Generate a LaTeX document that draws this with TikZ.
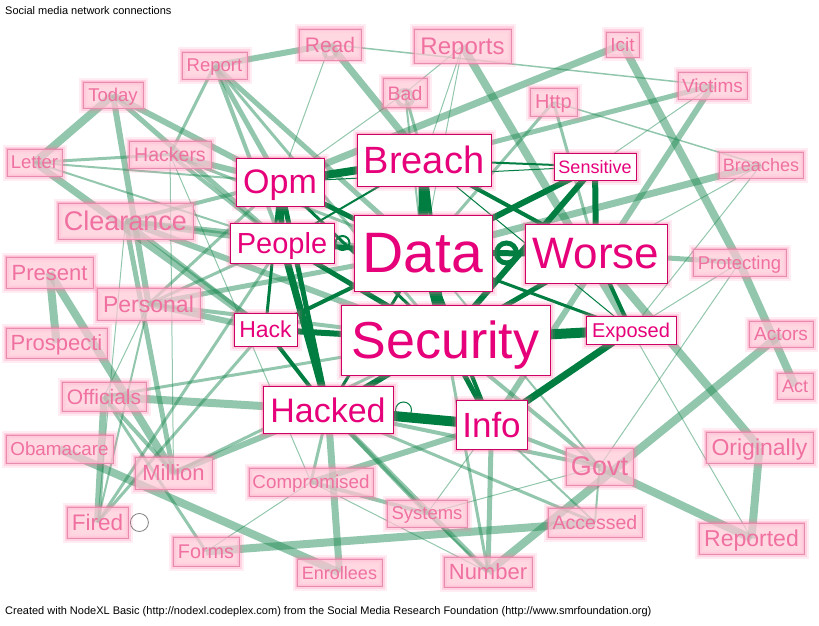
\documentclass[tikz,border=0pt]{standalone}
\usepackage{fontspec}
\setmainfont{Liberation Sans}
\usetikzlibrary{calc}
\definecolor{pktext}{RGB}{240,112,160}
\definecolor{pkfill}{RGB}{255,200,215}
\definecolor{pkborder}{RGB}{232,140,175}
\definecolor{glowc}{RGB}{255,110,160}
\definecolor{mgtext}{RGB}{230,0,122}
\definecolor{mgborder}{RGB}{205,0,100}
\definecolor{ltc}{RGB}{30,140,85}
\definecolor{dkc}{RGB}{0,125,65}
\pgfdeclarelayer{bgpaper}
\pgfdeclarelayer{edges}
\pgfsetlayers{bgpaper,edges,main}
\newcommand\fsz[1]{\fontsize{#1}{#1}\selectfont}
\tikzset{
  glow/.style={preaction={draw=glowc, line width=9pt, draw opacity=0.12},
               preaction={draw=glowc, line width=5pt, draw opacity=0.2},
               preaction={draw=glowc, line width=2.5pt, draw opacity=0.25}},
  pk/.style={glow, draw=pkborder, line width=0.8pt, fill=pkfill, fill opacity=0.7,
             text opacity=1, text=pktext, inner sep=0pt, text depth=0pt},
  mg/.style={glow, draw=mgborder, line width=1pt, fill=white, text=mgtext, inner sep=0pt,
             text depth=0pt},
  lt/.style={draw=ltc, draw opacity=0.48, line cap=butt},
  dk/.style={draw=dkc, line cap=butt},
  caption/.style={anchor=west, inner sep=0pt, font=\fsz{11}, text=black}
}
\begin{document}
\begin{tikzpicture}[x=1pt,y=-1pt]
\useasboundingbox (0,0) rectangle (819,626);
\begin{pgfonlayer}{bgpaper}
\fill[white] (0,0) rectangle (819,626);
\end{pgfonlayer}
\node[caption] (title) at (5,11) {Social media network connections};
\node[caption] (footer) at (5,612) {Created with NodeXL Basic (http://nodexl.codeplex.com) from the Social Media Research Foundation (http://www.smrfoundation.org)};
% pink nodes
\node[pk, minimum width=62, minimum height=31, font=\fsz{21}] (read) at (330,44.5) {Read};
\node[pk, minimum width=97, minimum height=34, font=\fsz{24}] (reports) at (462.5,46) {Reports};
\node[pk, minimum width=33, minimum height=25, font=\fsz{19}] (icit) at (622.5,44.5) {Icit};
\node[pk, minimum width=65, minimum height=27, font=\fsz{18.5}] (report) at (214.5,65.5) {Report};
\node[pk, minimum width=69, minimum height=27, font=\fsz{19}] (victims) at (712.5,85.5) {Victims};
\node[pk, minimum width=60, minimum height=26, font=\fsz{18.5}] (today) at (113,95) {Today};
\node[pk, minimum width=44, minimum height=29, font=\fsz{19.5}] (bad) at (405,93) {Bad};
\node[pk, minimum width=47, minimum height=28, font=\fsz{20}] (http) at (553.5,102) {Http};
\node[pk, minimum width=55, minimum height=27, font=\fsz{18.5}] (letter) at (34.5,162.5) {Letter};
\node[pk, minimum width=82, minimum height=27, font=\fsz{19.5}] (hackers) at (170,154.5) {Hackers};
\node[pk, minimum width=84, minimum height=26, font=\fsz{18}] (breaches) at (761,165) {Breaches};
\node[pk, minimum width=135, minimum height=36, font=\fsz{27}] (clearance) at (125.5,221) {Clearance};
\node[pk, minimum width=93, minimum height=27, font=\fsz{18.5}] (protecting) at (739.5,262.5) {Protecting};
\node[pk, minimum width=87, minimum height=31, font=\fsz{22}] (present) at (49.5,272.5) {Present};
\node[pk, minimum width=103, minimum height=32, font=\fsz{23}] (personal) at (148.5,304) {Personal};
\node[pk, minimum width=64, minimum height=26, font=\fsz{19}] (actors) at (781,334) {Actors};
\node[pk, minimum width=101, minimum height=30, font=\fsz{22}] (prospecti) at (56.5,343) {Prospecti};
\node[pk, minimum width=36, minimum height=26, font=\fsz{18}] (act) at (795,386) {Act};
\node[pk, minimum width=84, minimum height=29, font=\fsz{21}] (officials) at (104,396.5) {Officials};
\node[pk, minimum width=107, minimum height=28, font=\fsz{18.8}] (obamacare) at (59.5,449) {Obamacare};
\node[pk, minimum width=107, minimum height=31, font=\fsz{23}] (originally) at (759.5,447.5) {Originally};
\node[pk, minimum width=77, minimum height=32, font=\fsz{22}] (million) at (173.5,473) {Million};
\node[pk, minimum width=67, minimum height=37, font=\fsz{27}] (govt) at (599.5,466.5) {Govt};
\node[pk, minimum width=124, minimum height=28, font=\fsz{18.8}] (compromised) at (311,482) {Compromised};
\node[pk, minimum width=80, minimum height=27, font=\fsz{18.5}] (systems) at (427,513.5) {Systems};
\node[pk, minimum width=61, minimum height=31, font=\fsz{22.5}] (fired) at (97.5,522.5) {Fired};
\node[pk, minimum width=94, minimum height=29, font=\fsz{19.5}] (accessed) at (595,522.5) {Accessed};
\node[pk, minimum width=105, minimum height=31, font=\fsz{23}] (reported) at (751.5,538.5) {Reported};
\node[pk, minimum width=66, minimum height=29, font=\fsz{19.8}] (forms) at (206,551.5) {Forms};
\node[pk, minimum width=85, minimum height=27, font=\fsz{18}] (enrollees) at (339.5,572.5) {Enrollees};
\node[pk, minimum width=88, minimum height=30, font=\fsz{22}] (number) at (488,572) {Number};
% white nodes
\node[mg, minimum width=88, minimum height=48, font=\fsz{34}] (opm) at (280,182) {Opm};
\node[mg, minimum width=134, minimum height=52, font=\fsz{38}] (breach) at (424,160) {Breach};
\node[mg, minimum width=82, minimum height=27, font=\fsz{18}] (sensitive) at (595,166.5) {Sensitive};
\node[mg, minimum width=104, minimum height=40, font=\fsz{29}] (people) at (282,243) {People};
\node[mg, minimum width=138, minimum height=76, font=\fsz{57}] (data) at (423,253) {Data};
\node[mg, minimum width=142, minimum height=59, font=\fsz{44}] (worse) at (596,253.5) {Worse};
\node[mg, minimum width=63, minimum height=33, font=\fsz{23}] (hack) at (265.5,329.5) {Hack};
\node[mg, minimum width=209, minimum height=70, font=\fsz{52}] (security) at (445.5,340) {Security};
\node[mg, minimum width=90, minimum height=28, font=\fsz{20}] (exposed) at (631,330) {Exposed};
\node[mg, minimum width=130, minimum height=47, font=\fsz{34}] (hacked) at (328,410) {Hacked};
\node[mg, minimum width=71, minimum height=49, font=\fsz{35}] (info) at (491.5,425) {Info};
\begin{pgfonlayer}{edges}
% light edges
\foreach \a/\b/\w in {
 report/read/6, read/breach/7, read/opm/1, read/victims/1.5,
 reports/bad/1, reports/breach/1, reports/exposed/8, icit/opm/7, icit/protecting/8,
 victims/breach/5, victims/info/6, victims/sensitive/1, http/breaches/1.5,
 http/data/3, http/worse/3, breaches/data/7, breaches/security/1, breaches/exposed/1,
 protecting/worse/5, protecting/act/8, protecting/exposed/1, protecting/govt/1,
 worse/originally/8, exposed/reported/1, originally/reported/8, govt/reported/8,
 actors/number/8, govt/security/4, govt/info/4, govt/hacked/4, govt/data/2,
 accessed/info/2, accessed/hacked/3, accessed/govt/2, forms/accessed/8,
 obamacare/enrollees/8, number/info/5, number/hacked/5, number/compromised/1,
 number/systems/2, number/security/3, systems/hacked/4, systems/info/1,
 systems/compromised/4, systems/govt/1, enrollees/hacked/7, compromised/hacked/3,
 compromised/info/6, officials/forms/3, forms/compromised/1, million/hacked/6,
 million/security/3, million/officials/4, fired/officials/7, fired/hack/3,
 fired/people/3, fired/personal/2, present/prospecti/8, present/million/8,
 officials/hacked/8, officials/security/3, personal/opm/3, personal/data/5,
 personal/security/4, personal/hack/6, personal/people/3, personal/officials/1,
 clearance/opm/4, clearance/people/6, clearance/data/5, clearance/security/6,
 clearance/hack/4, clearance/million/5, clearance/fired/1, hackers/opm/6,
 hackers/people/4, hackers/data/3, hackers/million/1, hackers/compromised/1,
 letter/hackers/3, letter/opm/2, letter/people/2, letter/hack/7, today/letter/8,
 today/opm/6, today/people/5, today/personal/6, report/hackers/3, report/opm/5,
 report/people/4, report/data/5, report/security/3, bad/breach/3, bad/data/2,
 bad/opm/1, reports/data/1}
 \draw[lt, line width=\w pt] (\a.center) -- (\b.center);
% dark edges
\foreach \a/\b/\w in {
 opm/breach/8, opm/data/5, opm/people/6, opm/security/3, opm/hacked/5,
 people/hacked/7, breach/data/10, breach/security/4, breach/worse/4,
 breach/sensitive/2, data/security/8, data/worse/6, data/sensitive/6,
 sensitive/worse/6, sensitive/security/6, worse/exposed/4, security/exposed/10,
 security/info/5, security/hack/6, security/hacked/6, hacked/info/10,
 info/exposed/7, data/hack/4, people/security/5, people/data/5, hack/hacked/4,
 data/hacked/3, opm/hack/3, worse/security/5, people/breach/2, opm/sensitive/1,
 breach/exposed/1, data/exposed/3, data/info/4}
 \draw[dk, line width=\w pt] (\a.center) -- (\b.center);
% self loops
\draw[lt, line width=4pt] ([yshift=8pt]read.south) circle [radius=6];
\draw[lt, line width=4pt] ([yshift=10pt]bad.south) circle [radius=8];
\draw[draw=gray, line width=0.8pt] ([xshift=11pt]fired.east) circle [radius=9];
\draw[dk, line width=1pt] ([xshift=10pt]hacked.east) circle [radius=8];
\draw[dk, line width=2pt] ([xshift=8pt]people.east) circle [radius=7];
\draw[dk, line width=5pt] ([xshift=14pt]data.east) circle [radius=10];
\end{pgfonlayer}
\end{tikzpicture}
\end{document}
